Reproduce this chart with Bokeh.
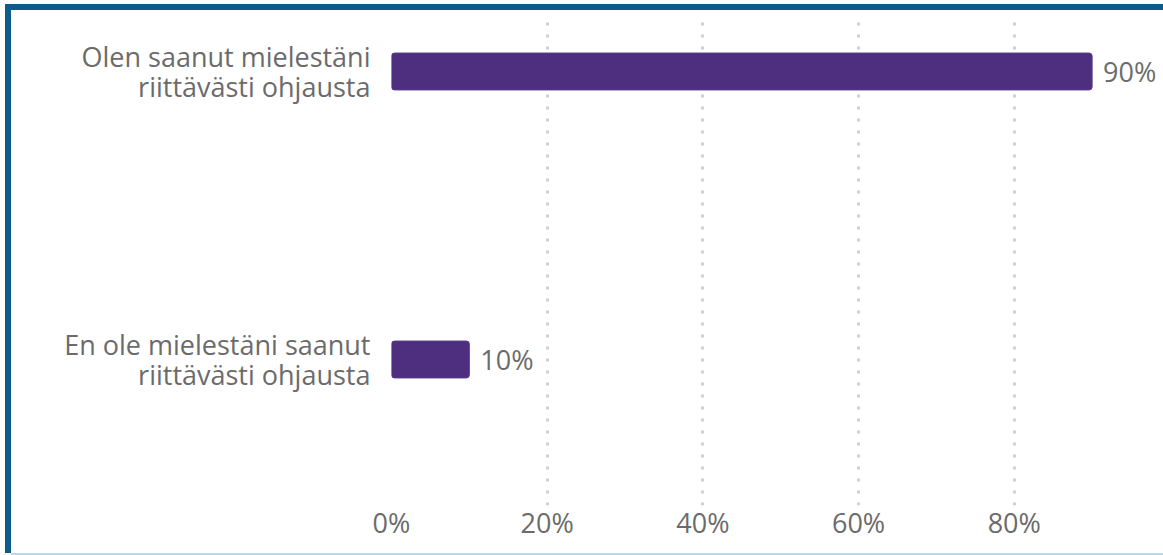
from bokeh.plotting import figure
from bokeh.models import ColumnDataSource, Range1d, FixedTicker
from bokeh.core.properties import value
from bokeh.embed import file_html
from bokeh.resources import INLINE

# data
categories = ["Olen saanut mielestäni\nriittävästi ohjausta",
              "En ole mielestäni saanut\nriittävästi ohjausta"]
values = [90, 10]
value_labels = ["90%", "10%"]
positions = [1, 0]
x_ticks = [0, 20, 40, 60, 80]
x_tick_labels = ["0%", "20%", "40%", "60%", "80%"]

src = ColumnDataSource(dict(y=positions, v=values, lab=value_labels))

p = figure(width=1152, height=543, output_backend="svg", toolbar_location=None,
           x_range=Range1d(0, 99.17), y_range=Range1d(-0.5069, 1.1944),
           min_border_left=380, min_border_right=0, min_border_top=5,
           min_border_bottom=48)
p.styles = {"margin-left": "11px", "margin-top": "10px",
            "box-shadow": ("0 -6px 0 #0c5b8d, -6px 0 0 #0c5b8d, "
                           "-6px -6px 0 #0c5b8d, 0 2px 0 #bcd9ec")}
p.outline_line_color = None
p.background_fill_color = "white"
p.border_fill_color = "white"

p.hbar(y="y", right="v", left=0, height=0.128, source=src,
       fill_color="#4e2e7e", line_color="#5a3a8a", line_width=1,
       border_radius=3)
p.text(x="v", y="y", text="lab", source=src, x_offset=11,
       text_baseline="middle", text_align="left",
       text_font=value("Open Sans"), text_font_size="27px", text_color="#6b6b6b")

p.xaxis.ticker = FixedTicker(ticks=x_ticks)
p.xaxis.major_label_overrides = {t: l for t, l in zip(x_ticks, x_tick_labels)}
p.yaxis.ticker = FixedTicker(ticks=positions)
p.yaxis.major_label_overrides = {pp: c for pp, c in zip(positions, categories)}

for ax in (p.xaxis[0], p.yaxis[0]):
    ax.axis_line_color = None
    ax.major_tick_line_color = None
    ax.minor_tick_line_color = None
    ax.major_tick_out = 0
    ax.major_tick_in = 0
    ax.minor_tick_out = 0
    ax.major_label_text_font = "Open Sans"
    ax.major_label_text_font_size = "27px"
    ax.major_label_text_color = "#6b6b6b"
p.xaxis.major_label_standoff = -2
p.yaxis.major_label_standoff = 21
p.yaxis.major_label_text_align = "right"
p.yaxis.major_label_text_line_height = 0.82

p.xgrid.ticker = FixedTicker(ticks=x_ticks)
p.xgrid.grid_line_color = "#d0d0d0"
p.xgrid.grid_line_width = 3
p.xgrid.grid_line_dash = "3 9"
p.ygrid.grid_line_color = None

open("out.html", "w").write(file_html(p, INLINE))
